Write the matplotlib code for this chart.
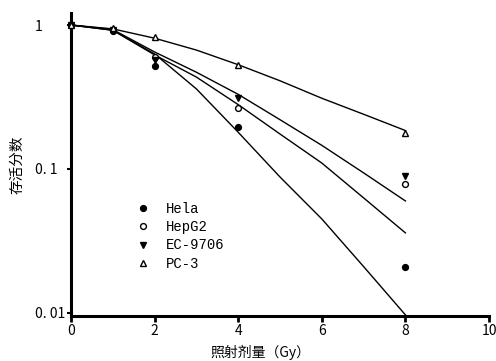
"""
Cell survival curves (survival fraction vs. dose) for four cell lines.
Saves out.png (496x361).
"""

import matplotlib
matplotlib.use("Agg")
import matplotlib.pyplot as plt

plt.rcParams["font.family"] = ["Noto Sans CJK SC", "DejaVu Sans"]

# measured points (dose in Gy, survival fraction)
dose_pts = [0, 1, 2, 4, 8]
hela_pts = [1.0, 0.91, 0.52, 0.197, 0.021]
hepg2_pts = [1.0, 0.92, 0.60, 0.265, 0.079]
ec9706_pts = [1.0, 0.92, 0.57, 0.31, 0.089]
pc3_pts = [1.0, 0.96, 0.82, 0.53, 0.178]

# fitted curves at each whole Gy
dose_fit = [0, 1, 2, 3, 4, 5, 6, 7, 8]
hela_fit = [1.0, 0.92, 0.63, 0.36, 0.18, 0.088, 0.045, 0.021, 0.0097]
hepg2_fit = [1.0, 0.92, 0.62, 0.435, 0.28, 0.175, 0.11, 0.063, 0.036]
ec9706_fit = [1.0, 0.93, 0.65, 0.47, 0.33, 0.22, 0.146, 0.094, 0.060]
pc3_fit = [1.0, 0.94, 0.81, 0.67, 0.53, 0.41, 0.31, 0.24, 0.185]

labels = ["Hela", "HepG2", "EC-9706", "PC-3"]
x_ticks = [0, 2, 4, 6, 8, 10]
y_ticks = [1, 0.1, 0.01]
y_tick_labels = ["1", "0. 1", "0. 01"]

fig = plt.figure(figsize=(4.96, 3.61), dpi=100)
ax = fig.add_axes([0.1431, 0.1247, 0.8428, 0.8393])

for fit in (hela_fit, hepg2_fit, ec9706_fit, pc3_fit):
    ax.plot(dose_fit, fit, color="black", lw=1.0, zorder=2)

ms = 4.2
ax.plot(dose_pts, hela_pts, "o", color="black", ms=ms, clip_on=False,
        label=labels[0], zorder=3)
ax.plot(dose_pts, hepg2_pts, "o", mfc="white", mec="black", mew=1.0, ms=ms,
        clip_on=False, label=labels[1], zorder=3)
ax.plot(dose_pts, ec9706_pts, "v", color="black", ms=ms + 0.6, clip_on=False,
        label=labels[2], zorder=3)
ax.plot(dose_pts, pc3_pts, "^", mfc="white", mec="black", mew=1.0, ms=ms + 0.6,
        clip_on=False, label=labels[3], zorder=3)

ax.set_yscale("log")
ax.set_xlim(0, 10)
ax.set_ylim(0.00953, 1.212)

ax.set_xticks(x_ticks)
ax.set_xticklabels([str(t) for t in x_ticks])
ax.set_yticks(y_ticks)
ax.set_yticklabels(y_tick_labels)
ax.yaxis.set_minor_locator(matplotlib.ticker.NullLocator())

for side in ("top", "right"):
    ax.spines[side].set_visible(False)
for side in ("left", "bottom"):
    ax.spines[side].set_linewidth(2.2)

ax.tick_params(axis="x", direction="out", length=4, width=2, pad=2,
               labelsize=10)
ax.tick_params(axis="y", direction="out", length=3, width=1.5, pad=23,
               labelsize=10)
for lab in ax.get_yticklabels():
    lab.set_horizontalalignment("left")

ax.set_xlabel("照射剂量（Gy）", fontsize=10)
ax.xaxis.set_label_coords(0.452, -0.095)
ax.set_ylabel("存活分数", fontsize=10.5)
ax.yaxis.set_label_coords(-0.112, 0.5)

ax.legend(loc="upper left", bbox_to_anchor=(0.155, 0.376), frameon=False,
          borderpad=0, handlelength=1.0, handletextpad=1.15,
          labelspacing=0.3, borderaxespad=0,
          prop={"family": "Liberation Mono", "size": 10})

fig.savefig("out.png", dpi=100)
